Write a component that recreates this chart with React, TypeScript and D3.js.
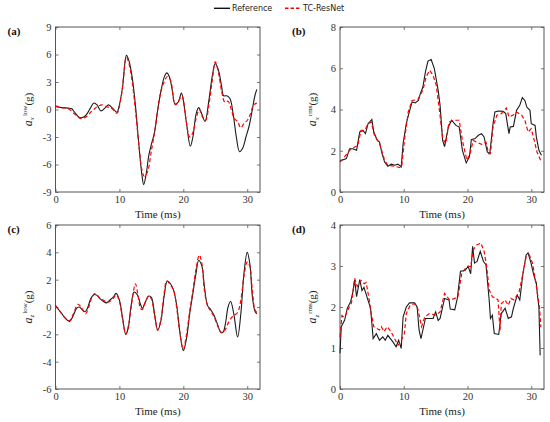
import React, { useEffect, useRef } from 'react'
import * as d3 from 'd3'

type TPoint = [number, number]

const xTicks = [0, 10, 20, 30]

// (a) a_x low
const refA: TPoint[] = [
  [0, 0.3], [1, 0.2], [2, 0.15], [2.5, 0.1], [3, -0.3], [3.8, -0.9], [4.5, -0.8], [5, -0.4],
  [5.5, 0.2], [6, 0.7], [6.5, 0.5], [7.1, -0.15], [7.8, 0.2], [8.3, 0.5], [9, 0.1], [9.6, -0.3],
  [10, 0.5], [10.5, 2.5], [11.1, 5.9], [11.5, 5.3], [12, 3.5], [12.5, 0.5], [13, -3.5], [13.5, -7],
  [13.8, -8.2], [14.2, -7], [14.6, -5], [15, -3.8], [15.5, -2.5], [16, 0], [16.5, 2], [17, 3.5],
  [17.4, 4.0], [17.8, 3.6], [18.3, 2], [18.7, 0.6], [19.2, 0.8], [19.7, 1.8], [20, 1.0], [20.5, -1.5],
  [21.1, -4.0], [21.5, -3.0], [22, -0.5], [22.4, 0.2], [22.9, -0.5], [23.4, -1.3], [24, 1], [24.5, 3.5],
  [25, 5.0], [25.5, 4.3], [26, 2.5], [26.3, 1.5], [26.8, 1.5], [27.3, 1.2], [27.8, -0.5], [28.3, -3],
  [28.8, -4.6], [29.3, -4.2], [29.8, -3], [30.3, -1.8], [30.8, 0], [31.2, 1.5], [31.5, 2.2],
]
const predA: TPoint[] = [
  [0, 0.4], [1, 0.2], [2, 0.1], [3, -0.5], [4, -1.0], [5, -0.7], [5.5, -0.3], [6, 0], [6.5, 0.3],
  [7.3, 0.5], [8, 0.3], [8.5, 0.2], [9, 0], [9.6, -0.4], [10.3, 1.5], [11.1, 5.7], [11.5, 5.0],
  [12, 3.0], [12.5, 0], [13, -3.5], [13.5, -6.5], [13.9, -7.3], [14.4, -6.8], [15, -4.5], [15.5, -2.5],
  [16, 0], [16.5, 2.0], [17, 3.0], [17.5, 3.6], [18, 3.2], [18.5, 1], [18.8, 0.5], [19.3, 1],
  [19.8, 1.5], [20.3, -0.5], [21, -3.0], [21.5, -2.5], [22, -1], [22.5, 0], [23, -0.8], [23.5, -1.2],
  [24, 0.5], [24.5, 3], [25, 5.2], [25.5, 4], [26, 2], [26.5, 0.8], [27, 0.9], [27.5, 0], [28, -1],
  [28.5, -1.3], [29, -2.0], [29.5, -1.5], [30, -1.2], [30.5, -0.5], [31, 0.5], [31.5, 0.7],
]

// (b) a_x rms
const refB: TPoint[] = [
  [0, 1.5], [0.3, 1.54], [1, 1.62], [1.5, 2.1], [2, 2.1], [2.6, 2.02], [3.1, 2.91], [3.6, 2.99],
  [4, 2.83], [4.4, 3.31], [5, 3.52], [5.3, 2.91], [5.85, 2.5], [6.2, 2.42], [6.6, 1.86], [7, 1.45],
  [7.5, 1.25], [8.05, 1.35], [8.6, 1.3], [9.1, 1.35], [9.6, 1.22], [9.9, 2.35], [10.4, 3.31],
  [10.8, 3.8], [11.3, 4.37], [11.8, 4.32], [12.3, 4.44], [12.6, 4.77], [13, 5.09], [13.4, 5.82],
  [13.8, 6.35], [14.3, 6.42], [14.8, 5.98], [15.4, 4.93], [15.7, 4.2], [16.1, 2.5], [16.4, 2.2],
  [17, 3.15], [17.5, 3.48], [18.2, 3.23], [18.7, 3.15], [19.2, 2.02], [19.8, 1.41], [20.3, 1.7],
  [20.6, 2.54], [21.2, 2.59], [21.7, 2.75], [22.2, 2.83], [22.6, 2.67], [23.1, 1.94], [23.5, 1.86],
  [24, 3.31], [24.3, 3.88], [24.8, 3.93], [25.6, 3.91], [26, 3.8], [26.5, 2.83], [26.7, 3.15],
  [27.2, 3.18], [27.7, 3.96], [28.2, 4.2], [28.6, 4.58], [29, 4.44], [29.3, 4.12], [29.8, 3.96],
  [30, 3.31], [30.6, 3.23], [30.8, 2.67], [31.2, 2.02], [31.6, 1.78],
]
const predB: TPoint[] = [
  [0, 1.45], [0.7, 1.7], [1.5, 2.02], [2.3, 2.18], [2.8, 2.26], [3.3, 2.99], [3.9, 2.99], [4.4, 3.31],
  [4.9, 3.39], [5.4, 2.75], [6.2, 2.35], [7, 1.54], [7.5, 1.3], [8.6, 1.25], [9.4, 1.18], [9.7, 1.3],
  [10.1, 2.5], [10.7, 3.88], [11.3, 4.44], [12.2, 4.48], [13, 4.93], [13.5, 5.58], [14.05, 5.9],
  [14.6, 5.66], [15.1, 5.17], [15.6, 3.96], [16.1, 2.6], [16.6, 2.35], [17.1, 3.39], [17.8, 3.48],
  [18.7, 3.48], [19.2, 2.5], [19.9, 1.54], [20.4, 1.86], [20.9, 2.5], [21.4, 2.42], [22.2, 2.31],
  [22.9, 2.42], [23.3, 1.86], [23.6, 1.86], [24, 3.15], [24.6, 3.72], [25.3, 3.8], [26.1, 4.07],
  [26.5, 3.64], [27.1, 3.72], [27.7, 3.88], [28.5, 3.72], [29, 3.48], [29.5, 2.91], [30, 3.07],
  [30.4, 2.59], [30.9, 1.94], [31.6, 1.45],
]

// (c) a_z low
const refC: TPoint[] = [
  [0, 0.1], [0.5, -0.2], [1, -0.5], [1.5, -0.8], [2.2, -1.05], [2.8, -0.6], [3.3, -0.1], [3.7, 0.0],
  [4.2, -0.2], [4.6, -0.35], [5, -0.1], [5.5, 0.6], [6, 0.9], [6.5, 0.85], [7, 0.6], [7.5, 0.4],
  [8, 0.3], [8.5, 0.5], [9, 0.7], [9.5, 1.0], [10, 0.5], [10.5, -0.8], [11, -2.0], [11.4, -1.5],
  [11.8, 0], [12.3, 1.1], [12.8, 0.9], [13.3, 0.2], [13.6, -0.1], [14, 0.3], [14.6, 0.8], [15, 0.7],
  [15.5, -0.5], [16, -1.7], [16.5, -1], [17, 0.8], [17.5, 1.9], [18, 1.7], [18.5, 1.2], [19, 0],
  [19.5, -2], [20, -3.2], [20.5, -2.3], [21, -0.5], [21.5, 1], [22, 2.5], [22.4, 3.4], [22.9, 3.0],
  [23.3, 1.5], [23.8, 0.1], [24.3, -0.2], [24.8, -0.6], [25.3, -1.2], [25.8, -1.8], [26.2, -1.85],
  [26.6, -1.2], [27, 0], [27.4, 0.4], [27.9, -0.5], [28.5, -2.2], [29, -0.5], [29.5, 2.5], [30, 4.0],
  [30.4, 3.2], [30.8, 0.8], [31.2, -0.3], [31.5, -0.5],
]
const predC: TPoint[] = [
  [0, 0.1], [0.5, -0.2], [1, -0.5], [1.5, -0.8], [2.2, -1.0], [2.8, -0.5], [3.5, 0.2], [4, 0.0],
  [4.7, -0.5], [5.2, 0], [5.7, 0.7], [6.2, 1.0], [7, 0.6], [7.5, 0.5], [8, 0.35], [8.5, 0.4], [9, 0.6],
  [9.5, 0.9], [10, 0.4], [10.5, -0.9], [11, -2.0], [11.4, -1.4], [12, 0.5], [12.5, 1.7], [12.9, 0.9],
  [13.3, -0.1], [13.6, -0.2], [14, 0.3], [14.6, 0.8], [15, 0.6], [15.5, -0.6], [16, -1.7], [16.5, -0.9],
  [17, 1.0], [17.4, 1.9], [18, 1.6], [18.5, 1.2], [19, -0.2], [19.5, -2.0], [20, -3.1], [20.5, -2],
  [21, -0.3], [21.5, 1.2], [22, 2.8], [22.5, 3.8], [22.9, 3.2], [23.3, 1.2], [23.8, 0.1], [24.3, -0.3],
  [24.8, -0.7], [25.3, -1.3], [26, -1.9], [26.5, -1.7], [27, -1.2], [27.5, -0.8], [28, -0.6],
  [28.5, -0.4], [29, 0.5], [29.5, 2.3], [30, 3.3], [30.4, 3.0], [30.8, 1.2], [31.2, -0.2], [31.5, -0.4],
]

// (d) a_z rms
const refD: TPoint[] = [
  [0, 0.87], [0.2, 1.52], [0.73, 1.68], [1.15, 1.97], [1.67, 2.13], [2.03, 2.37], [2.3, 2.66],
  [2.6, 2.25], [3.1, 2.67], [3.45, 2.4], [3.76, 2.48], [4.4, 2.16], [4.8, 1.97], [5.2, 1.23],
  [5.7, 1.35], [6.2, 1.19], [6.7, 1.27], [7.1, 1.19], [7.5, 1.31], [8.3, 1.15], [8.8, 1.03],
  [9.2, 1.19], [9.6, 0.99], [9.9, 1.76], [10.4, 2.0], [10.9, 2.1], [11.7, 2.1], [12.1, 2.0],
  [12.4, 1.44], [12.7, 1.23], [13.4, 1.72], [14.6, 1.72], [15, 1.88], [15.4, 1.67], [15.7, 1.72],
  [16.4, 2.21], [17.1, 2.17], [17.3, 1.95], [18, 1.93], [18.4, 2.21], [18.9, 2.87], [19.6, 2.89],
  [20.1, 2.99], [20.5, 2.81], [20.8, 3.48], [21.1, 3.07], [21.5, 3.11], [22, 3.36], [22.5, 3.11],
  [22.9, 3.03], [23.4, 2.17], [23.6, 1.72], [23.9, 1.8], [24.2, 1.35], [24.9, 1.33], [25.3, 1.84],
  [25.9, 1.97], [26.4, 1.72], [26.9, 1.76], [27.2, 1.97], [27.8, 2.29], [28.2, 2.17], [28.7, 2.82],
  [29.2, 3.27], [29.5, 3.32], [29.9, 3.11], [30.4, 2.78], [30.8, 2.58], [31, 2.25], [31.2, 2.0],
  [31.4, 0.82],
]
const predD: TPoint[] = [
  [0, 1.27], [0.3, 1.79], [0.73, 1.75], [1.57, 2.04], [1.8, 2.1], [2.3, 2.7], [2.7, 2.5], [3.3, 2.65],
  [3.8, 2.57], [4.1, 2.6], [4.6, 2.16], [4.8, 1.92], [5.3, 1.52], [5.7, 1.48], [6.2, 1.44], [6.5, 1.52],
  [6.9, 1.4], [7.4, 1.52], [8, 1.4], [8.7, 1.19], [9.1, 1.07], [9.5, 1.15], [10.1, 1.35], [10.4, 1.84],
  [11, 2.04], [11.7, 2.08], [12.2, 1.96], [12.8, 1.52], [13.3, 1.76], [14, 1.84], [15, 1.8],
  [15.7, 1.88], [16.4, 2.33], [17.2, 2.17], [18, 2.21], [18.5, 2.25], [19.1, 2.82], [19.9, 2.99],
  [20.5, 2.99], [20.9, 3.4], [21.5, 3.52], [22.1, 3.56], [22.6, 3.36], [23, 2.99], [23.4, 2.42],
  [23.9, 2.25], [24.5, 2.21], [24.8, 2.17], [25.1, 1.43], [25.3, 2.08], [25.9, 2.17], [26.4, 2.04],
  [26.8, 2.21], [27.3, 2.17], [28.1, 2.37], [28.7, 2.82], [29.2, 3.23], [29.7, 3.27], [30.2, 3.07],
  [30.8, 2.5], [31.3, 2.0], [31.5, 1.51],
]

const yTicksA = [-9, -6, -3, 0, 3, 6, 9]
const yTicksB = [0, 2, 4, 6, 8]
const yTicksC = [-6, -4, -2, 0, 2, 4, 6]
const yTicksD = [0, 1, 2, 3, 4]

const serif = '"Liberation Serif", "Times New Roman", serif'

const App = (): JSX.Element => {
  const ref = useRef<SVGSVGElement>(null)

  useEffect(() => {
    const svg = d3.select(ref.current)
    svg.selectAll('*').remove()

    const panels = [
      { tag: '(a)', left: 55.5, top: 27, w: 204.5, h: 165, yDom: [-9, 9], yTicks: yTicksA, refData: refA, predData: predA, smooth: true, sub: 'x', sup: 'low' },
      { tag: '(b)', left: 340, top: 27, w: 204, h: 165, yDom: [0, 8], yTicks: yTicksB, refData: refB, predData: predB, smooth: false, sub: 'x', sup: 'rms' },
      { tag: '(c)', left: 55.5, top: 225, w: 204.5, h: 164, yDom: [-6, 6], yTicks: yTicksC, refData: refC, predData: predC, smooth: true, sub: 'z', sup: 'low' },
      { tag: '(d)', left: 340, top: 225, w: 204, h: 164, yDom: [0, 4], yTicks: yTicksD, refData: refD, predData: predD, smooth: false, sub: 'z', sup: 'rms' },
    ]

    panels.forEach(p => {
      const x = d3.scaleLinear().domain([0, 32]).range([0, p.w])
      const y = d3.scaleLinear().domain(p.yDom).range([p.h, 0])
      const g = svg.append('g').attr('transform', `translate(${p.left},${p.top})`)

      const styleAxis = (a: d3.Selection<SVGGElement, unknown, null, undefined>) => {
        a.select('.domain').remove()
        a.selectAll('.tick line').attr('stroke', '#555').attr('stroke-width', 0.8)
        a.selectAll('.tick text').attr('fill', '#333').style('font-family', serif).style('font-size', '10.5px')
      }

      g.append('g')
        .attr('transform', `translate(0,${p.h})`)
        .call(d3.axisBottom(x).tickValues(xTicks).tickSizeInner(-3).tickSizeOuter(0).tickPadding(4).tickFormat(d => String(d)))
        .call(styleAxis)
      g.append('g')
        .call(d3.axisTop(x).tickValues(xTicks).tickSizeInner(-3).tickSizeOuter(0).tickFormat(() => ''))
        .call(styleAxis)
      g.append('g')
        .call(d3.axisLeft(y).tickValues(p.yTicks).tickSizeInner(-3).tickSizeOuter(0).tickPadding(4).tickFormat(d => String(d)))
        .call(styleAxis)
      g.append('g')
        .attr('transform', `translate(${p.w},0)`)
        .call(d3.axisRight(y).tickValues(p.yTicks).tickSizeInner(-3).tickSizeOuter(0).tickFormat(() => ''))
        .call(styleAxis)

      g.append('rect')
        .attr('width', p.w)
        .attr('height', p.h)
        .attr('fill', 'none')
        .attr('stroke', '#555')
        .attr('stroke-width', 1)

      const line = d3
        .line<TPoint>()
        .x(d => x(d[0]))
        .y(d => y(d[1]))
        .curve(p.smooth ? d3.curveCatmullRom.alpha(0.5) : d3.curveLinear)

      g.append('path')
        .datum(p.refData)
        .attr('fill', 'none')
        .attr('stroke', '#1a1a1a')
        .attr('stroke-width', 1.1)
        .attr('d', line)
      g.append('path')
        .datum(p.predData)
        .attr('fill', 'none')
        .attr('stroke', '#ff0000')
        .attr('stroke-width', 1.2)
        .attr('stroke-dasharray', '4,2.5')
        .attr('d', line)

      g.append('text')
        .attr('x', p.w / 2)
        .attr('y', p.h + 26)
        .attr('text-anchor', 'middle')
        .attr('fill', '#222')
        .style('font-family', serif)
        .style('font-size', '11px')
        .text('Time (ms)')

      const yl = g
        .append('text')
        .attr('transform', `translate(-24,${p.h / 2}) rotate(-90)`)
        .attr('text-anchor', 'middle')
        .attr('fill', '#222')
        .style('font-family', serif)
        .style('font-size', '11px')
      yl.append('tspan').style('font-style', 'italic').style('font-size', '12px').text('a')
      yl.append('tspan').attr('dy', 2.5).style('font-style', 'italic').style('font-size', '7px').text(p.sub)
      yl.append('tspan').attr('dx', 1).attr('dy', -7).style('font-size', '7px').text(p.sup)
      yl.append('tspan').attr('dy', 4.5).text('(g)')

      svg
        .append('text')
        .attr('x', p.left - 48)
        .attr('y', p.top + 8)
        .attr('fill', '#111')
        .style('font-family', serif)
        .style('font-weight', 'bold')
        .style('font-size', '11px')
        .text(p.tag)
    })

    // legend
    const lg = svg.append('g').style('font-family', '"DejaVu Sans", sans-serif').style('font-size', '8px')
    lg.append('line').attr('x1', 214).attr('x2', 230).attr('y1', 8.3).attr('y2', 8.3).attr('stroke', '#111').attr('stroke-width', 1.4)
    lg.append('text').attr('x', 232).attr('y', 11.2).attr('fill', '#222').text('Reference')
    lg.append('line').attr('x1', 285).attr('x2', 301.5).attr('y1', 8.3).attr('y2', 8.3).attr('stroke', '#ff0000').attr('stroke-width', 1.4).attr('stroke-dasharray', '3.5,2')
    lg.append('text').attr('x', 303).attr('y', 11.2).attr('fill', '#222').text('TC-ResNet')
  }, [])

  return (
    <svg
      ref={ref}
      width={550}
      height={422}
      style={{ position: 'absolute', left: 0, top: 0, background: '#fff' }}
    />
  )
}

export default App
